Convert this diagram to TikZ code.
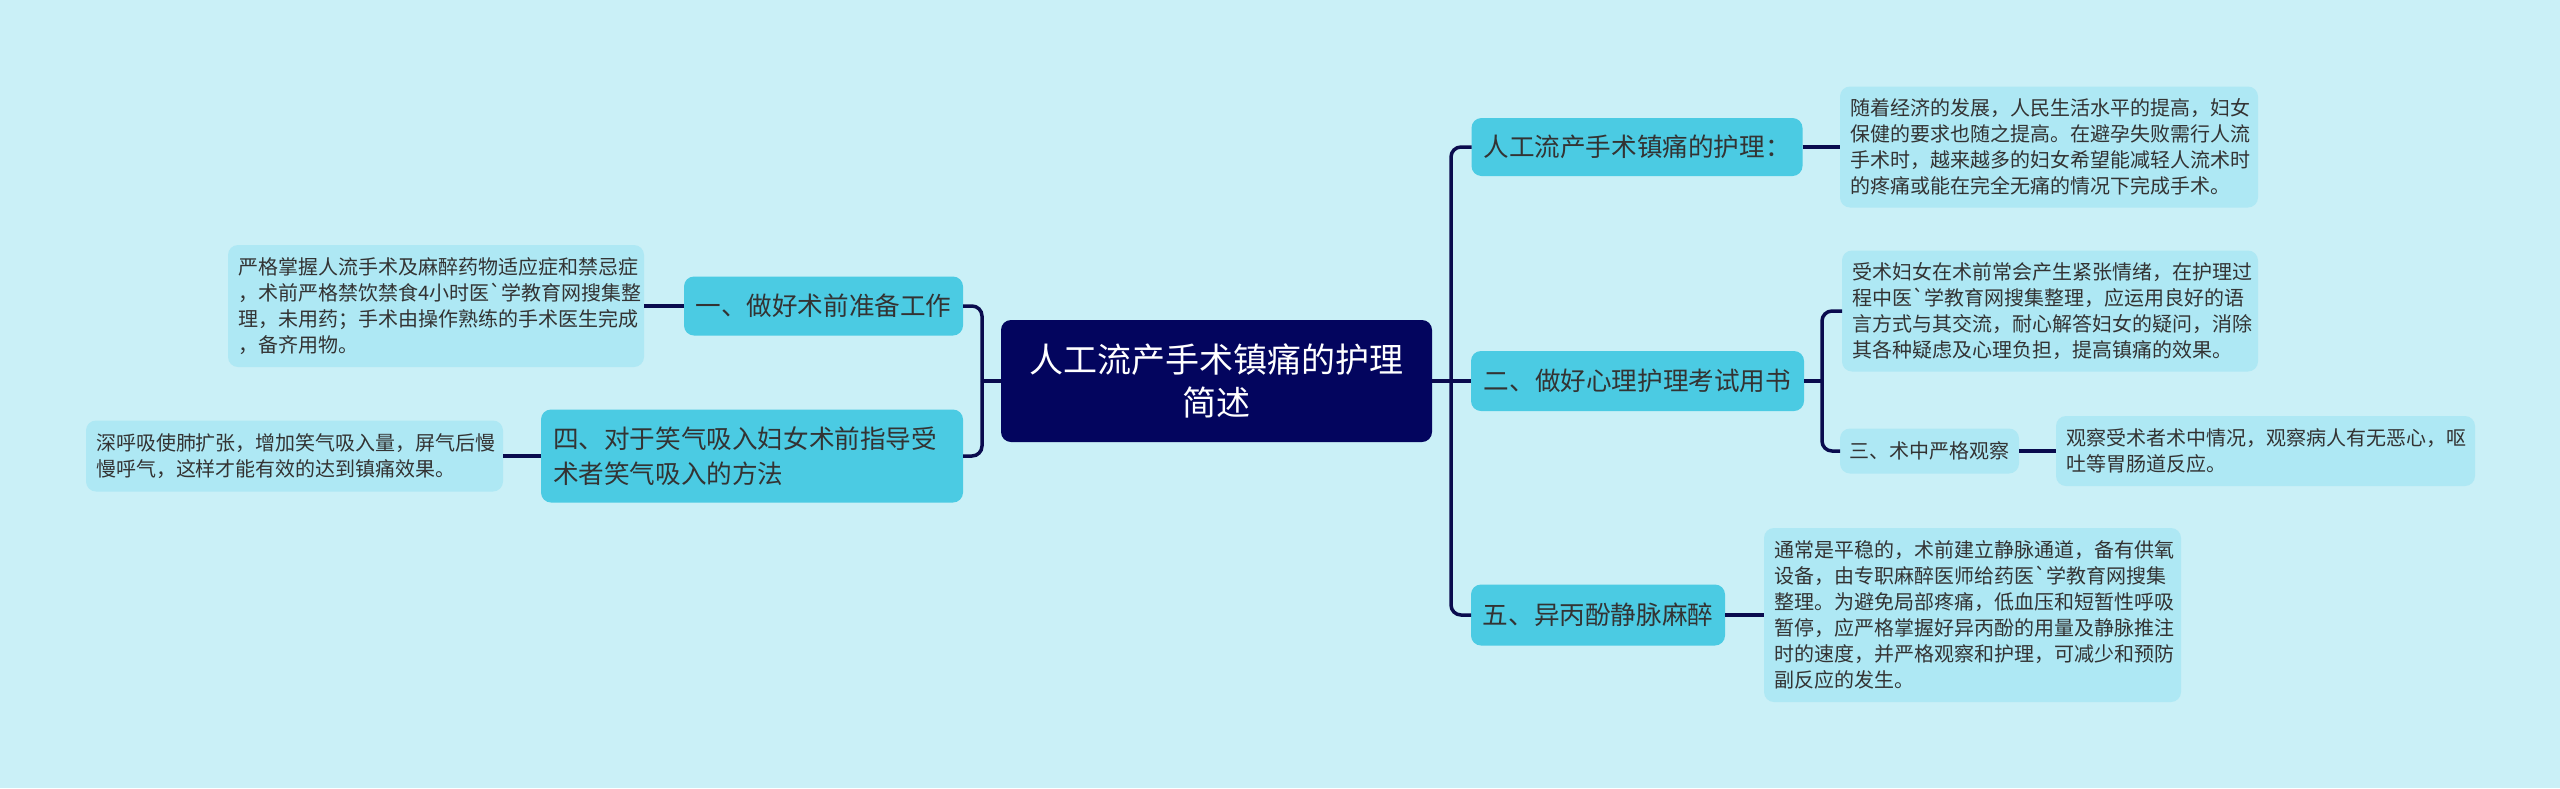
\documentclass[tikz,border=0pt]{standalone}
\usepackage{fontspec}
\newfontfamily\cjk{Noto Sans CJK SC}
\definecolor{bg}{HTML}{CAF0F7}
\definecolor{mainc}{HTML}{4BCBE3}
\definecolor{leafc}{HTML}{AEE8F4}
\definecolor{rootc}{HTML}{03055E}
\definecolor{linec}{HTML}{0A0B4E}
\definecolor{txt}{HTML}{333333}
\begin{document}
\begin{tikzpicture}[x=0.5pt,y=-0.5pt,
 conn/.style={draw=linec, line width=1.75pt, rounded corners=5pt},
 box/.style={rounded corners=5pt, inner ysep=0pt, outer sep=0pt},
 rootbox/.style={box, inner xsep=0pt, fill=rootc, text=white, font=\fontsize{17pt}{21.5pt}\selectfont\cjk, align=center},
 mainbox/.style={box, inner xsep=0pt, fill=mainc, text=txt, font=\fontsize{12.8pt}{17.5pt}\selectfont\cjk, align=center},
 mainmulti/.style={box, inner xsep=6pt, fill=mainc, text=txt, font=\fontsize{12.8pt}{17.5pt}\selectfont\cjk, align=left},
 leafbox/.style={box, inner xsep=5pt, fill=leafc, text=txt, font=\fontsize{10pt}{13pt}\selectfont\cjk, align=left},
 subbox/.style={box, inner xsep=0pt, fill=leafc, text=txt, font=\fontsize{10pt}{13pt}\selectfont\cjk, align=center},
]
\fill[bg] (0,0) rectangle (2560,788);
\useasboundingbox (0,0) rectangle (2560,788);

% root
\node[rootbox, minimum width=215.5pt, minimum height=61pt, text width=205pt] (root) at (1216.5,381) {人工流产手术镇痛的护理\\简述};

% right main branches
\node[mainbox, minimum width=165.5pt, minimum height=29pt] (n1) at (1637,147) {人工流产手术镇痛的护理：};
\node[mainbox, minimum width=166.5pt, minimum height=30pt] (n2) at (1637.5,381) {二、做好心理护理考试用书};
\node[mainbox, minimum width=127pt, minimum height=30.5pt] (n3) at (1598,615) {五、异丙酚静脉麻醉};

% left main branches
\node[mainbox, minimum width=139.5pt, minimum height=29.5pt] (a1) at (823.5,306) {一、做好术前准备工作};
\node[mainmulti, text width=199pt, minimum height=46.5pt] (a4) at (752,456) {四、对于笑气吸入妇女术前指导受\\术者笑气吸入的方法};

% sub branch
\node[subbox, minimum width=89.5pt, minimum height=22.5pt] (s3) at (1929.5,451) {三、术中严格观察};

% leaves right
\node[leafbox, text width=199pt, minimum height=60.5pt] (l1) at (2049,147) {随着经济的发展，人民生活水平的提高，妇女\\保健的要求也随之提高。在避孕失败需行人流\\手术时，越来越多的妇女希望能减轻人流术时\\的疼痛或能在完全无痛的情况下完成手术。};
\node[leafbox, text width=198pt, minimum height=60.5pt] (l2) at (2050,311) {受术妇女在术前常会产生紧张情绪，在护理过\\程中医`学教育网搜集整理，应运用良好的语\\言方式与其交流，耐心解答妇女的疑问，消除\\其各种疑虑及心理负担，提高镇痛的效果。};
\node[leafbox, text width=199.5pt, minimum height=35pt] (l3) at (2265.5,451) {观察受术者术中情况，观察病人有无恶心，呕\\吐等胃肠道反应。};
\node[leafbox, text width=198.5pt, minimum height=87pt] (l5) at (1972.5,615) {通常是平稳的，术前建立静脉通道，备有供氧\\设备，由专职麻醉医师给药医`学教育网搜集\\整理。为避免局部疼痛，低血压和短暂性呼吸\\暂停，应严格掌握好异丙酚的用量及静脉推注\\时的速度，并严格观察和护理，可减少和预防\\副反应的发生。};

% leaves left
\node[leafbox, text width=198pt, minimum height=61pt] (b1) at (436,306) {严格掌握人流手术及麻醉药物适应症和禁忌症\\，术前严格禁饮禁食4小时医`学教育网搜集整\\理，未用药；手术由操作熟练的手术医生完成\\，备齐用物。};
\node[leafbox, text width=198.5pt, minimum height=35.5pt] (b4) at (294.5,456) {深呼吸使肺扩张，增加笑气吸入量，屏气后慢\\慢呼气，这样才能有效的达到镇痛效果。};

% junctions
\coordinate (rj) at (1451,381);
\coordinate (lj) at (982,381);
\coordinate (sj) at (1822,381);

% connectors
\draw[conn] (root.east) -- (n2.west);
\draw[conn] (rj) |- (n1.west);
\draw[conn] (rj) |- (n3.west);
\draw[conn] (root.west) -- (lj);
\draw[conn] (lj) |- (a1.east);
\draw[conn] (lj) |- (a4.east);
\draw[conn] (n1.east) -- (l1.west);
\draw[conn] (n2.east) -- (sj);
\draw[conn] (sj) |- (l2.west);
\draw[conn] (sj) |- (s3.west);
\draw[conn] (s3.east) -- (l3.west);
\draw[conn] (n3.east) -- (l5.west);
\draw[conn] (a1.west) -- (b1.east);
\draw[conn] (a4.west) -- (b4.east);
\end{tikzpicture}
\end{document}
